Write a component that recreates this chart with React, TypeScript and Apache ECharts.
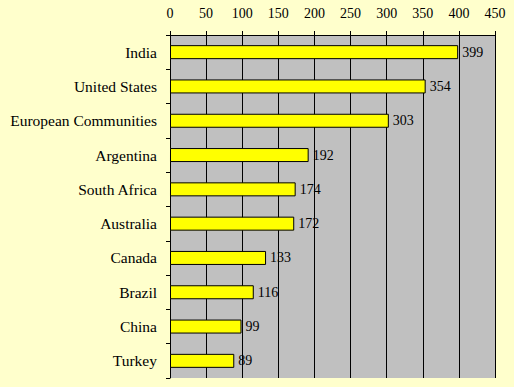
import React, { useEffect, useRef } from "react";
import * as echarts from "echarts";

const categories = [
  "India",
  "United States",
  "European Communities",
  "Argentina",
  "South Africa",
  "Australia",
  "Canada",
  "Brazil",
  "China",
  "Turkey",
];
const values = [399, 354, 303, 192, 174, 172, 133, 116, 99, 89];
const axisMin = 0;
const axisMax = 450;
const axisStep = 50;

export default function App() {
  const ref = useRef<HTMLDivElement>(null);
  useEffect(() => {
    if (!ref.current) return;
    const chart = echarts.init(ref.current, undefined, { renderer: "svg" });
    const font = "'Liberation Serif', 'Times New Roman', serif";
    chart.setOption({
      animation: false,
      backgroundColor: "#FFFFCC",
      textStyle: { fontFamily: font },
      grid: {
        left: 170,
        right: 19,
        top: 35,
        bottom: 9,
        show: true,
        backgroundColor: "#C0C0C0",
        borderWidth: 0,
      },
      xAxis: {
        type: "value",
        position: "top",
        min: axisMin,
        max: axisMax,
        interval: axisStep,
        axisLine: { show: true, lineStyle: { color: "#000", width: 1 } },
        axisTick: { show: true, length: 4, lineStyle: { color: "#000" } },
        axisLabel: { color: "#000", fontSize: 14, fontFamily: font, margin: 15 },
        splitLine: { show: true, lineStyle: { color: "#000", width: 1 } },
      },
      yAxis: {
        type: "category",
        data: categories,
        inverse: true,
        axisLine: { show: true, lineStyle: { color: "#000", width: 1 } },
        axisTick: { show: true, length: 4, lineStyle: { color: "#000" } },
        axisLabel: { color: "#000", fontSize: 15.5, fontFamily: font, margin: 13 },
        splitLine: { show: false },
      },
      series: [
        {
          type: "bar",
          data: values,
          barWidth: 14,
          itemStyle: { color: "#FFFF00", borderColor: "#000", borderWidth: 1 },
          label: {
            show: true,
            position: "right",
            distance: 4,
            color: "#000",
            fontSize: 14,
            fontFamily: font,
          },
        },
      ],
    });
    return () => chart.dispose();
  }, []);
  return <div ref={ref} style={{ width: 514, height: 387, position: "absolute", left: 0, top: 0 }} />;
}
